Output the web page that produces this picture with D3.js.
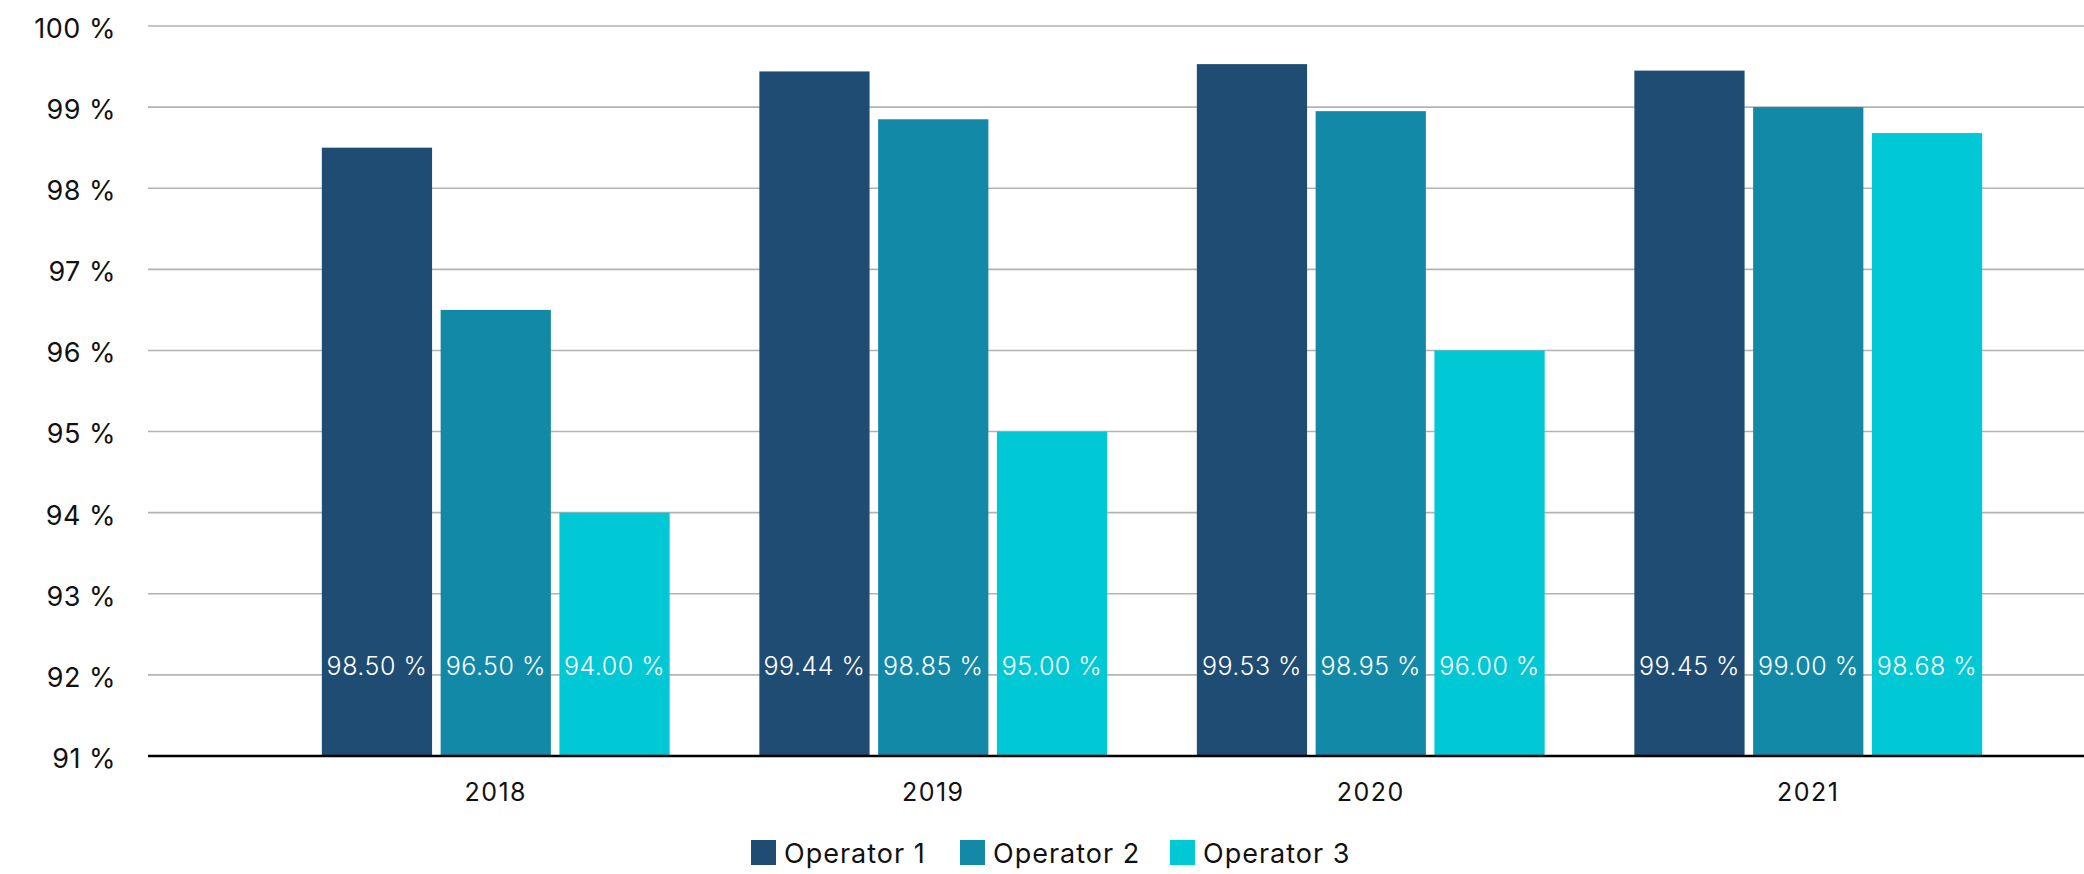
<!DOCTYPE html>
<html>
<head>
<meta charset="utf-8">
<script src="https://cdn.jsdelivr.net/npm/d3@7"></script>
<style>
  html, body { margin: 0; padding: 0; background: #fff; }
  svg { display: block; font-family: Inter, "Noto Sans", sans-serif; }
</style>
</head>
<body>
<svg id="chart" width="2084" height="874"></svg>
<script>
// Yearly availability per operator (percent)
const years = ["2018", "2019", "2020", "2021"];
const operators = ["Operator 1", "Operator 2", "Operator 3"];
const operator1 = [98.50, 99.44, 99.53, 99.45];
const operator2 = [96.50, 98.85, 98.95, 99.00];
const operator3 = [94.00, 95.00, 96.00, 98.68];
const yTicks = [91, 92, 93, 94, 95, 96, 97, 98, 99, 100];
const colors = ["#1f4c72", "#1289a7", "#00c8d4"];

const seriesValues = [operator1, operator2, operator3];
const rows = years.map((yr, i) => ({
  year: yr,
  values: operators.map((op, j) => ({ op, idx: j, value: seriesValues[j][i] }))
}));

const svg = d3.select("#chart");
const plotLeft = 148, plotRight = 2084, plotTop = 26, plotBottom = 756;

const y = d3.scaleLinear().domain([91, 100]).range([plotBottom, plotTop]);

const x0 = d3.scaleBand()
  .domain(years)
  .range([277, 2027])
  .paddingInner(0.205)
  .paddingOuter(0.1025);

const x1 = d3.scaleBand()
  .domain(operators)
  .range([0, x0.bandwidth()])
  .paddingInner(0.072);

const color = d3.scaleOrdinal().domain(operators).range(colors);

// Horizontal gridlines
svg.append("g")
  .selectAll("line")
  .data(yTicks.filter(t => t !== 91))
  .join("line")
  .attr("x1", plotLeft).attr("x2", plotRight)
  .attr("y1", d => y(d)).attr("y2", d => y(d))
  .attr("stroke", "#b3b3b3")
  .attr("stroke-width", 1.6);

// Y axis labels
const yAxis = d3.axisLeft(y).tickValues(yTicks).tickSize(0).tickPadding(0)
  .tickFormat(d => d + " %");
svg.append("g")
  .attr("transform", `translate(116,0)`)
  .call(yAxis)
  .call(g => g.select(".domain").remove())
  .call(g => g.selectAll("text")
    .attr("font-size", 27)
    .attr("font-family", "Inter, sans-serif")
    .attr("letter-spacing", "0.5px")
    .attr("fill", "#111")
    .attr("dy", "0.42em"));

// Bars
const groups = svg.append("g")
  .selectAll("g")
  .data(rows)
  .join("g")
  .attr("transform", d => `translate(${x0(d.year)},0)`);

groups.selectAll("rect")
  .data(d => d.values)
  .join("rect")
  .attr("x", d => x1(d.op))
  .attr("y", d => y(d.value))
  .attr("width", x1.bandwidth())
  .attr("height", d => y(91) - y(d.value))
  .attr("fill", d => color(d.op));

// Value labels placed near the bottom of each bar
groups.selectAll("text")
  .data(d => d.values)
  .join("text")
  .attr("x", d => x1(d.op) + x1.bandwidth() / 2)
  .attr("y", y(91) - 90)
  .attr("dy", "0.36em")
  .attr("text-anchor", "middle")
  .attr("font-size", 25)
  .attr("font-weight", 300)
  .attr("letter-spacing", "0.5px")
  .attr("fill", "#ffffff")
  .text(d => d.value.toFixed(2) + " %");

// Baseline axis with year labels
const xAxis = d3.axisBottom(x0).tickSize(0).tickPadding(0);
svg.append("g")
  .attr("transform", `translate(0,${plotBottom})`)
  .call(xAxis)
  .call(g => g.select(".domain").remove())
  .call(g => g.selectAll("text")
    .attr("font-size", 25)
    .attr("font-family", "Inter, sans-serif")
    .attr("letter-spacing", "1.5px")
    .attr("fill", "#111")
    .attr("y", 36)
    .attr("dy", "0.36em"));

svg.append("line")
  .attr("x1", plotLeft).attr("x2", plotRight)
  .attr("y1", plotBottom).attr("y2", plotBottom)
  .attr("stroke", "#000")
  .attr("stroke-width", 2.5);

// Legend
const legendX = [751, 960, 1170];
const legend = svg.append("g")
  .selectAll("g")
  .data(operators)
  .join("g")
  .attr("transform", (d, i) => `translate(${legendX[i]},840)`);

legend.append("rect")
  .attr("width", 25).attr("height", 25)
  .attr("fill", d => color(d));

legend.append("text")
  .attr("x", 33).attr("y", 13)
  .attr("dy", "0.36em")
  .attr("font-size", 27)
  .attr("letter-spacing", "1px")
  .attr("fill", "#111")
  .text(d => d);
</script>
</body>
</html>
